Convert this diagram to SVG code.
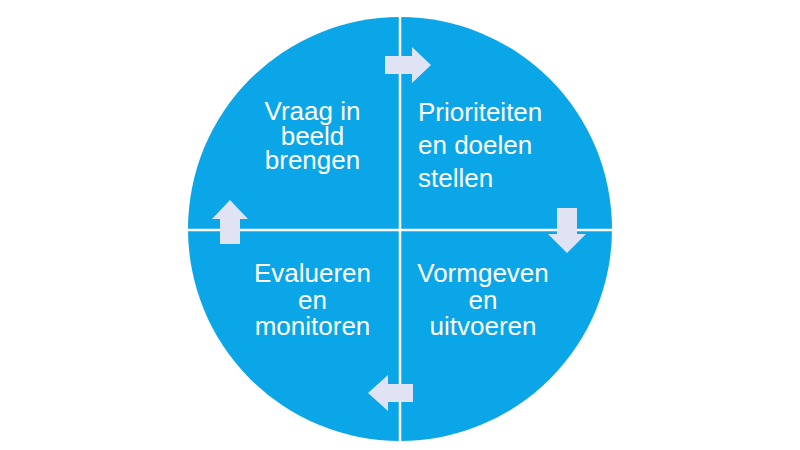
<svg xmlns="http://www.w3.org/2000/svg" width="800" height="450" viewBox="0 0 800 450">
<style>
.lbl{font-family:"Liberation Sans",Arial,sans-serif;font-size:26px;fill:#ffffff}
.arr{fill:#dfe3f3}
.div{stroke:#ffffff;stroke-width:2.5;fill:none}
</style>
<rect width="800" height="450" fill="#ffffff"/>
<g id="circle">
<circle cx="400" cy="229" r="212" fill="#0ba6e8"/>
</g>
<g id="connectors">
<line class="div" x1="400" y1="15" x2="400" y2="443"/>
<line class="div" x1="186" y1="230" x2="614" y2="230"/>
<polygon class="arr" points="385,56 412,56 412,47 431,65 412,83 412,74 385,74"/>
<polygon class="arr" points="557,208 577,208 577,234 586,234 567,253 548,234 557,234"/>
<polygon class="arr" points="413,384 413,402 388,402 388,411 368,393 388,375 388,384"/>
<polygon class="arr" points="220,244 220,219 212,219 230,200 248,219 240,219 240,244"/>
</g>
<g id="node-vraag">
<text class="lbl" text-anchor="middle" x="312.5" y="119.5">Vraag in</text>
<text class="lbl" text-anchor="middle" x="312.5" y="145">beeld</text>
<text class="lbl" text-anchor="middle" x="312.5" y="169">brengen</text>
</g>
<g id="node-prioriteiten">
<text class="lbl" x="418" y="121">Prioriteiten</text>
<text class="lbl" x="418" y="154">en doelen</text>
<text class="lbl" x="418" y="187">stellen</text>
</g>
<g id="node-vormgeven">
<text class="lbl" text-anchor="middle" x="483" y="282">Vormgeven</text>
<text class="lbl" text-anchor="middle" x="483" y="309">en</text>
<text class="lbl" text-anchor="middle" x="483" y="335">uitvoeren</text>
</g>
<g id="node-evalueren">
<text class="lbl" text-anchor="middle" x="312.5" y="282">Evalueren</text>
<text class="lbl" text-anchor="middle" x="312.5" y="309">en</text>
<text class="lbl" text-anchor="middle" x="312.5" y="335">monitoren</text>
</g>
</svg>
